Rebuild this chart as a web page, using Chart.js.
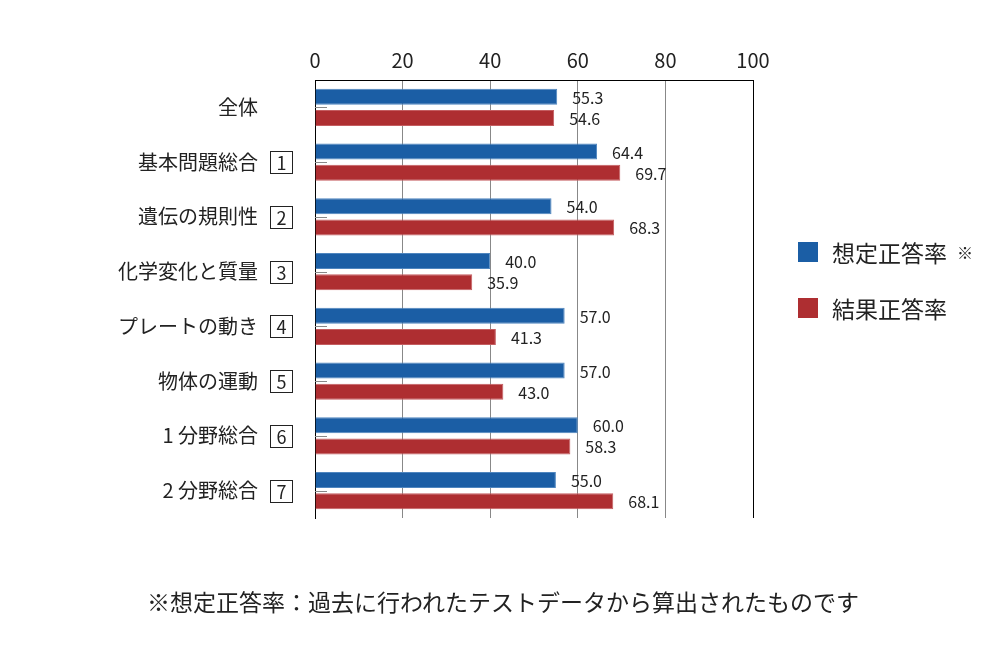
<!DOCTYPE html>
<html lang="ja">
<head>
<meta charset="utf-8">
<script src="https://cdn.jsdelivr.net/npm/chart.js@4.4.0/dist/chart.umd.min.js"></script>
<style>
  body { margin: 0; background: #fff; font-family: "Noto Sans CJK JP", "Noto Sans", sans-serif; color: #222; }
  #wrap { position: relative; width: 1000px; height: 660px; }
  #chart { position: absolute; left: 0; top: 0; }
  .legend-item { position: absolute; left: 798px; height: 22px; display: flex; align-items: center; font-size: 23px; }
  .legend-item .swatch { width: 20px; height: 20px; margin-right: 14px; }
  .legend-item .mark { font-size: 16px; margin-left: 10px; }
  #note { position: absolute; left: 0; width: 1006px; top: 584px; text-align: center; font-size: 23px; }
</style>
</head>
<body>
<div id="wrap">
  <canvas id="chart" width="1000" height="660"></canvas>
  <div class="legend-item" style="top:241px"><span class="swatch" style="background:#1b5ea5"></span>想定正答率<span class="mark">※</span></div>
  <div class="legend-item" style="top:297px"><span class="swatch" style="background:#ae2e31"></span>結果正答率</div>
  <div id="note">※想定正答率：過去に行われたテストデータから算出されたものです</div>
</div>
<script>
const categories = ['全体', '基本問題総合', '遺伝の規則性', '化学変化と質量', 'プレートの動き', '物体の運動', '1 分野総合', '2 分野総合'];
const sectionNumbers = ['', '1', '2', '3', '4', '5', '6', '7'];
const expectedRates = [55.3, 64.4, 54.0, 40.0, 57.0, 57.0, 60.0, 55.0];
const actualRates = [54.6, 69.7, 68.3, 35.9, 41.3, 43.0, 58.3, 68.1];
const xTicks = [0, 20, 40, 60, 80, 100];

const FONT = '"Noto Sans CJK JP", "Noto Sans", sans-serif';

const extrasPlugin = {
  id: 'extras',
  afterDatasetsDraw(chart) {
    const ctx = chart.ctx;
    const yScale = chart.scales.y;
    const left = chart.chartArea.left;

    ctx.save();
    // value labels
    ctx.font = '16px ' + FONT;
    ctx.fillStyle = '#222';
    ctx.textAlign = 'left';
    ctx.textBaseline = 'middle';
    chart.data.datasets.forEach((ds, di) => {
      chart.getDatasetMeta(di).data.forEach((bar, i) => {
        ctx.fillText(ds.data[i].toFixed(1), bar.x + 15, bar.y + 1);
      });
    });

    // small ticks on the left axis
    ctx.strokeStyle = '#888';
    ctx.lineWidth = 1;
    categories.forEach((c, i) => {
      const y = Math.round(yScale.getPixelForTick(i)) + 0.5;
      ctx.beginPath();
      ctx.moveTo(left, y);
      ctx.lineTo(left + 12, y);
      ctx.stroke();
    });

    // boxed section numbers
    ctx.font = '18px ' + FONT;
    ctx.textAlign = 'center';
    ctx.strokeStyle = '#222';
    sectionNumbers.forEach((n, i) => {
      if (!n) return;
      const y = Math.round(yScale.getPixelForTick(i));
      ctx.strokeRect(270.5, y - 10.5, 22, 22);
      ctx.fillText(n, 281.5, y + 1);
    });
    ctx.restore();
  }
};

new Chart(document.getElementById('chart'), {
  type: 'bar',
  data: {
    labels: categories,
    datasets: [
      {
        label: '想定正答率',
        data: expectedRates,
        backgroundColor: '#1b5ea5',
        borderColor: '#4f86bf',
        borderWidth: 1,
        borderSkipped: 'start',
        categoryPercentage: 0.77,
        barPercentage: 0.76,
      },
      {
        label: '結果正答率',
        data: actualRates,
        backgroundColor: '#ae2e31',
        borderColor: '#c45d60',
        borderWidth: 1,
        borderSkipped: 'start',
        categoryPercentage: 0.77,
        barPercentage: 0.76,
      },
    ],
  },
  options: {
    indexAxis: 'y',
    responsive: false,
    animation: false,
    layout: {padding: {left: 0, right: 247, top: 0, bottom: 142}},
    plugins: {
      legend: {display: false},
      tooltip: {enabled: false},
    },
    scales: {
      x: {
        position: 'top',
        min: 0,
        max: 100,
        afterBuildTicks: (scale) => {
          scale.ticks = xTicks.map((v) => ({value: v}));
        },
        afterFit: (scale) => {
          scale.height = 80;
        },
        ticks: {
          color: '#222',
          font: {family: FONT, size: 20},
          padding: 8,
        },
        grid: {
          drawTicks: false,
          color: (c) => (c.tick && (c.tick.value === 0 || c.tick.value === 100) ? '#000' : '#888'),
        },
        border: {display: true, color: '#000'},
      },
      y: {
        afterFit: (scale) => {
          scale.width = 315;
        },
        ticks: {
          color: '#222',
          font: {family: FONT, size: 20},
          padding: 57,
        },
        grid: {display: false, drawTicks: false},
        border: {display: true, color: '#000'},
      },
    },
  },
  plugins: [extrasPlugin],
});
</script>
</body>
</html>
